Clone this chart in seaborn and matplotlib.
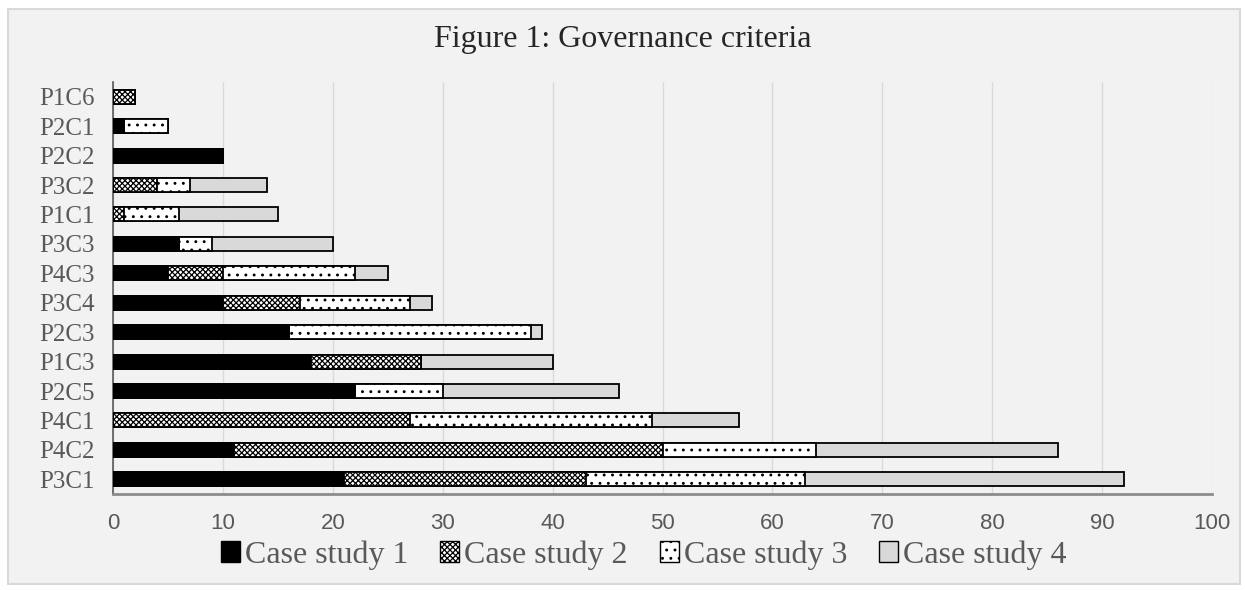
import numpy as np
import pandas as pd
import matplotlib
import matplotlib.pyplot as plt
import matplotlib.patches as mpatches
import seaborn as sns

# --- data ---
criteria = ['P1C6', 'P2C1', 'P2C2', 'P3C2', 'P1C1', 'P3C3', 'P4C3',
            'P3C4', 'P2C3', 'P1C3', 'P2C5', 'P4C1', 'P4C2', 'P3C1']
case1 = [0, 1, 10, 0, 0, 6, 5, 10, 16, 18, 22, 0, 11, 21]
case2 = [2, 0, 0, 4, 1, 0, 5, 7, 0, 10, 0, 27, 39, 22]
case3 = [0, 4, 0, 3, 5, 3, 12, 10, 22, 0, 8, 22, 14, 20]
case4 = [0, 0, 0, 7, 9, 11, 3, 2, 1, 12, 16, 8, 22, 29]
series_names = ['Case study 1', 'Case study 2', 'Case study 3', 'Case study 4']

# --- styles ---
faces = ['black', 'white', 'white', '#d9d9d9']
hatches = [None, 'xxxxxx', '..', None]
serif = ['Liberation Serif', 'DejaVu Serif']
narrow = ['Liberation Sans Narrow', 'Liberation Sans', 'DejaVu Sans']

sns.set_theme(style='white')
plt.rcParams['hatch.linewidth'] = 0.9

df = pd.DataFrame({'criterion': criteria, 'c1': case1, 'c2': case2,
                   'c3': case3, 'c4': case4})
# cumulative totals so the stack can be drawn back to front
cum = df[['c1', 'c2', 'c3', 'c4']].cumsum(axis=1)

fig = plt.figure(figsize=(12.45, 5.9), dpi=100)
fig.patch.set_facecolor('white')
fig.patches.append(mpatches.Rectangle((8 / 1245, 6 / 590), 1232 / 1245, 575 / 590,
                                      transform=fig.transFigure, facecolor='#f2f2f2',
                                      edgecolor='#d9d9d9', linewidth=1.5, zorder=-10))
ax = fig.add_axes([113 / 1245, 96 / 590, 1099 / 1245, 412 / 590])
ax.set_facecolor('#f2f2f2')
ax.patch.set_alpha(0)

for i in [3, 2, 1, 0]:
    col = cum.columns[i]
    sns.barplot(x=cum[col], y=df['criterion'], order=criteria, orient='h',
                color=faces[i], saturation=1, width=0.48, edgecolor='black',
                linewidth=1.3, hatch=hatches[i], ax=ax, zorder=3)

ax.set_xlim(0, 100)
ax.set_xticks(range(0, 101, 10))
ax.xaxis.grid(True, color='#d9d9d9', linewidth=1, zorder=0)
ax.set_axisbelow(True)
ax.set_xlabel('')
ax.set_ylabel('')
for s in ['top', 'right']:
    ax.spines[s].set_visible(False)
ax.spines['left'].set_color('#595959')
ax.spines['left'].set_linewidth(1.2)
ax.spines['bottom'].set_color('#8c8c8c')
ax.spines['bottom'].set_linewidth(2)
ax.tick_params(axis='x', length=0, pad=14, labelsize=16, labelcolor='#595959')
ax.tick_params(axis='y', length=0, pad=13, labelsize=18, labelcolor='#595959')
for lab in ax.get_xticklabels():
    lab.set_family(narrow)
for lab in ax.get_yticklabels():
    lab.set_family(serif)

fig.text(0.5, 1 - 39 / 590, 'Figure 1: Governance criteria', ha='center', va='center',
         fontsize=23, family=serif, color='#262626')

handles = [mpatches.Patch(facecolor=faces[i], edgecolor='black', hatch=hatches[i],
                          label=series_names[i]) for i in range(4)]
fig.legend(handles=handles, loc='center', bbox_to_anchor=(0.517, 1 - 555 / 590),
           ncol=4, frameon=False, handlelength=0.6, handleheight=0.6,
           handletextpad=0.15, columnspacing=1.0,
           prop={'family': serif, 'size': 23}, labelcolor='#595959')

fig.savefig('out.png', dpi=100, facecolor=fig.get_facecolor())
